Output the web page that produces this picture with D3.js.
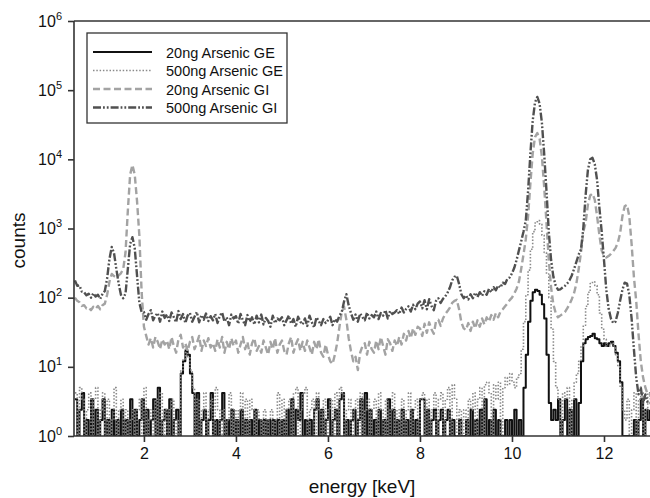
<!DOCTYPE html>
<html><head><meta charset="utf-8">
<script src="https://cdn.jsdelivr.net/npm/d3@7/dist/d3.min.js"></script>
<style>body{margin:0;background:#fff}svg{display:block}text{font-family:"Liberation Sans",Arial,sans-serif}</style>
</head><body><svg id="c" width="650" height="498"></svg>
<script>
// energy grid (keV): 0.50 .. 13.00 in 0.05 steps
const energyStart = 0.5, energyStep = 0.05, energyCount = 251;
const xTicks = [2, 4, 6, 8, 10, 12];
const yTickExps = [0, 1, 2, 3, 4, 5, 6];
const seriesNames = ["20ng Arsenic GE", "500ng Arsenic GE", "20ng Arsenic GI", "500ng Arsenic GI"];

// 20ng Arsenic GE (counts; 1 = no counts, sits on the axis)
const ge20 = [
3.4,1,2.4,4.2,1,1.7,1,3.4,1,2.4,
1,1.7,3.4,1,1.7,1,2.4,1,1.7,1,
2.4,1,1.7,1,3.4,1,2.4,1,1.7,3.4,
1,2.4,1,1.7,3.4,1,5,1,1.7,2.4,
1,3.4,1,1.7,2.4,1,8,12,17,15,
8,4.2,1,4.2,1,1.7,2.4,1,1.7,4.2,
1,1.7,1,1.7,4.2,1,1.7,1,2.4,1,
1.7,1,2.4,1,1.7,1,1.7,1,2.4,1,
1.7,1,1.7,1,1.7,1,1.7,1,1.7,1,
1.7,1,2.4,1,3.4,1,2.4,1.7,4.2,1,
1.7,1,1.7,1,2.4,3.4,1,2.4,1,1.7,
3.4,1,1.7,2.4,1,3.4,4.2,1,1.7,1,
1.7,2.4,1,1.7,3.4,1,4.2,1,2.4,1,
1.7,1,2.4,1,1.7,1,3.4,1,2.4,1,
1.7,1,2.4,1,1.7,1,2.4,1,1.7,1,
3.4,3.4,1,2.4,1,1.7,2.4,1,1.7,2.4,
1,1.7,2.4,1,1.7,1,1,1.7,1,1,
1.7,1,2.4,1,1.7,1,2.4,1,3.4,1,
1.7,1,2.4,1,1.7,1,1,1.7,1,1.7,
1,2.4,1,1.7,1,5,15,45,90,120,
130,125,110,80,50,15,3,1.7,2.4,1.7,
3.4,1,1.7,3.4,1,2.4,1,3.4,1,3,
12,22,25,27,28,30,26,25,22,20,
22,20,22,23,20,16,12,6,1,1,
1,1,1,1.7,1,1.7,3.4,1,2.4,1.7,
2.4];

// 500ng Arsenic GE (counts)
const ge500 = [
4.2,1,5,3.4,1,2.4,4.2,1,3.4,5,
1,2.4,4.2,1,3.4,1,1.7,5,1,2.4,
3.4,1,2.4,1,1.7,2.4,1,2.4,3.4,1,
5,1,1.7,2.4,1,3.4,1,4.2,1,2.4,
1,2.4,3.4,1,1.7,1,9,13,18,14,
9,5,1,3.4,1,2.4,4.2,1,2.4,3.4,
1,5,2.4,1,2.4,1,1.7,4.2,1,2.4,
1,2.4,4.2,1,3.4,1,3.4,2.4,1,2.4,
1.7,1,2.4,1,1.7,2.4,1,1.7,4.2,1,
3.4,1,2.4,3.4,1,4.2,5,1,2.4,4.2,
5,1,2.4,3.4,1,4.2,2.4,1,3.4,1,
2.4,3.4,1,4.2,1,5,4.2,1,2.4,3.4,
1,2.4,3.4,1,4.2,1,2.4,3.4,1,2.4,
3.4,1,4.2,2.4,1,3.4,1,2.4,4.2,1,
2.4,1,3.4,1,2.4,4.2,1,2.4,3.4,1,
3.4,4.2,1,3.4,1,2.4,4.2,1,3.4,4.2,
1,3.4,5,1,5.5,3.4,1,2.4,1,2.4,
1,3.4,2.4,4.2,1,3.4,5,1,5.5,6,
4.2,1,5.5,3.4,6,1,5,7,5.5,8,
6,5,7,8,18,45,110,250,500,900,
1200,1300,1150,800,450,220,100,35,12,5,
3.4,1,4.2,3.4,5,1,3.4,6,8,12,
20,40,75,120,160,170,150,110,60,35,
25,20,20,22,20,15,10,5,2.4,1.7,
3.4,1,2.4,4.2,1,3.4,4.2,1,2.4,4.2,
3.4];

// 20ng Arsenic GI (counts)
const gi20 = [
100,90,86,76,78,70,72,66,74,69,
76,68,78,82,110,170,220,205,195,210,
225,260,450,1800,6000,8300,6000,2500,800,120,
38,28,21,26,19,27,23,18,25,21,
24,18,27,20,16,25,29,19,22,17,
23,27,18,22,28,17,24,20,26,19,
22,17,25,19,27,16,23,18,26,20,
24,16,21,27,18,23,15,22,26,17,
20,16,24,19,15,23,18,26,16,21,
24,17,15,22,27,16,21,25,17,23,
17,24,19,15,23,18,25,16,14,21,
15,12,11,15,22,38,62,74,48,26,
17,12,14,9,16,20,22,15,23,18,
16,24,18,27,20,15,25,22,17,24,
20,27,21,30,24,33,26,36,29,38,
36,28,42,31,44,35,30,46,48,39,
50,58,64,72,84,90,93,68,44,36,
34,43,33,45,36,47,38,50,41,52,
45,56,48,60,52,63,68,75,82,92,
100,115,135,170,260,420,700,1500,4500,12000,
21000,24000,20000,11000,4000,1200,350,140,80,60,
52,55,58,62,70,80,95,117,160,260,
450,900,1200,2200,3000,3200,2600,1500,800,480,
400,380,400,430,470,520,620,850,1500,2100,
2200,1500,600,200,90,30,12,7,5,4,
4];

// 500ng Arsenic GI (counts)
const gi500 = [
178,148,150,122,120,108,114,100,116,104,
110,96,114,125,190,360,540,440,260,160,
110,98,115,260,600,750,520,210,85,62,
62,48,58,66,47,55,60,45,63,51,
57,46,61,52,44,64,49,58,43,55,
60,45,53,62,44,56,48,59,46,54,
47,58,43,55,61,45,52,40,57,50,
54,42,58,47,40,56,45,52,41,55,
44,57,41,51,46,38,55,43,50,47,
52,40,47,55,42,49,38,53,45,41,
50,39,55,44,37,52,46,40,49,43,
47,53,40,49,45,55,62,88,112,78,
60,48,57,45,59,52,47,61,50,56,
52,63,49,60,55,66,50,64,58,61,
66,58,72,61,69,75,63,79,68,82,
88,70,92,68,95,76,66,90,98,84,
96,104,118,140,178,200,208,158,112,98,
108,94,112,98,118,102,120,106,124,110,
134,120,142,128,150,140,165,158,188,196,
225,270,350,480,650,900,1300,3500,12000,36000,
66000,80000,64000,34000,12000,3500,900,350,200,150,
130,132,140,148,160,178,210,260,330,420,
500,1000,3000,7000,10000,10500,8500,5000,2000,900,
350,130,70,50,43,45,60,90,130,165,
160,110,50,18,7,4,5,3,4,3,
3];

const energy = d3.range(energyCount).map(i => +(energyStart + i * energyStep).toFixed(2));

const styles = [
  {data: ge20,  color: "#111111", width: 2.0, dash: null, curve: d3.curveStepAfter},
  {data: ge500, color: "#8a8a8a", width: 1.6, dash: "1.5,1.8", curve: d3.curveStepAfter},
  {data: gi20,  color: "#a3a3a3", width: 2.4, dash: "7,3.5", curve: d3.curveLinear},
  {data: gi500, color: "#505050", width: 2.4, dash: "8,2,1.8,2,1.8,2", curve: d3.curveLinear}
];

const svg = d3.select("#c");
const L = 74, R = 650, T = 21, B = 436;
const x = d3.scaleLinear().domain([0.48, 13]).range([L, R]);
const y = d3.scaleLog().domain([1, 1e6]).range([B, T]);

svg.append("defs").append("clipPath").attr("id", "clip")
  .append("rect").attr("x", L).attr("y", T).attr("width", R - L).attr("height", B - T);

const plot = svg.append("g").attr("clip-path", "url(#clip)");
styles.forEach(s => {
  const line = d3.line()
    .x((d, i) => x(energy[i]))
    .y(d => y(Math.max(1, d)))
    .curve(s.curve);
  plot.append("path").attr("d", line(s.data))
    .attr("fill", "none").attr("stroke", s.color)
    .attr("stroke-width", s.width)
    .attr("stroke-dasharray", s.dash)
    .attr("stroke-linejoin", "round");
});

// frame
const axisColor = "#333";
svg.append("line").attr("x1", L).attr("x2", R).attr("y1", T).attr("y2", T).attr("stroke", axisColor).attr("stroke-width", 1.6);

// x axis
const xAxis = d3.axisBottom(x).tickValues(xTicks).tickSize(6).tickPadding(6).tickFormat(d3.format("d"));
const gx = svg.append("g").attr("transform", `translate(0,${B})`).call(xAxis);
gx.select(".domain").attr("stroke", axisColor).attr("stroke-width", 1.6).attr("d", `M${L},0H${R}`);
gx.selectAll(".tick line").attr("stroke", axisColor).attr("stroke-width", 1.6);
gx.selectAll(".tick text").attr("font-size", 16).attr("fill", "#111").attr("font-family", "Liberation Sans, Arial, sans-serif");

// y axis
const yAxis = d3.axisLeft(y).tickValues(yTickExps.map(e => Math.pow(10, e))).tickSize(6).tickFormat("");
const gy = svg.append("g").attr("transform", `translate(${L},0)`).call(yAxis);
gy.select(".domain").attr("stroke", axisColor).attr("stroke-width", 1.6).attr("d", `M0,${T}V${B}`);
gy.selectAll(".tick line").attr("stroke", axisColor).attr("stroke-width", 1.6);
gy.selectAll(".tick").each(function(d) {
  const t = d3.select(this).append("text").attr("x", -12).attr("y", 5)
    .attr("text-anchor", "end").attr("fill", "#111").attr("font-size", 16);
  t.append("tspan").text("10");
  t.append("tspan").attr("font-size", 11).attr("dy", -7).text(Math.round(Math.log10(d)));
});

// axis titles
svg.append("text").attr("x", (L + R) / 2).attr("y", 493).attr("text-anchor", "middle")
  .attr("font-size", 19).attr("fill", "#111").text("energy [keV]");
svg.append("text").attr("transform", `translate(25,${(T + B) / 2 + 12}) rotate(-90)`)
  .attr("text-anchor", "middle").attr("font-size", 19).attr("fill", "#111").text("counts");

// legend
const lg = svg.append("g");
lg.append("rect").attr("x", 87).attr("y", 33).attr("width", 200).attr("height", 90)
  .attr("fill", "#fff").attr("stroke", axisColor).attr("stroke-width", 1.3);
seriesNames.forEach((name, i) => {
  const cy = 52 + i * 18.5;
  const s = styles[i];
  lg.append("line").attr("x1", 93).attr("x2", 152).attr("y1", cy).attr("y2", cy)
    .attr("stroke", s.color).attr("stroke-width", s.width).attr("stroke-dasharray", s.dash);
  lg.append("text").attr("x", 166).attr("y", cy + 5.5).attr("font-size", 14.5).attr("fill", "#111").text(name);
});
</script></body></html>
